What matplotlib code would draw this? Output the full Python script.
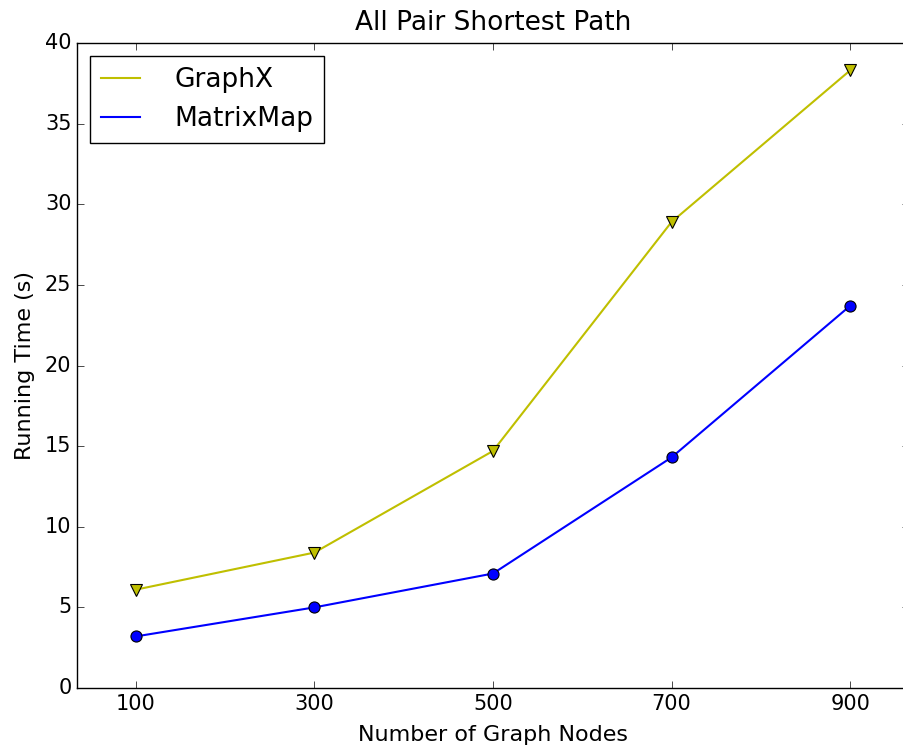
import matplotlib
matplotlib.use("Agg")
import matplotlib.pyplot as plt

plt.style.use("classic")

nodes = [100, 300, 500, 700, 900]
graphx = [6.1, 8.4, 14.7, 28.9, 38.3]
matrixmap = [3.2, 5.0, 7.1, 14.3, 23.7]

W, H = 904, 746
fig = plt.figure(figsize=(W / 100, H / 100), dpi=100, facecolor="white")
# axes placed in pixel terms; right spine sits just outside the canvas
ax = fig.add_axes([77 / W, 58 / H, 832 / W, 645 / H])

ax.plot(nodes, graphx, color="y", linewidth=1.5, label="GraphX")
ax.plot(nodes, matrixmap, color="b", linewidth=1.5, label="MatrixMap")
ax.plot(nodes, graphx, "v", color="y", markersize=8, markeredgecolor="k",
        markeredgewidth=0.8)
ax.plot(nodes, matrixmap, "o", color="b", markersize=8, markeredgecolor="k",
        markeredgewidth=0.8)

ax.set_xlim(34, 966)
ax.set_ylim(0, 40)
ax.set_xticks(nodes)
ax.set_yticks(range(0, 41, 5))
ax.tick_params(labelsize=15, length=5)

ax.set_title("All Pair Shortest Path", fontsize=19, pad=9)
ax.set_xlabel("Number of Graph Nodes", fontsize=16, labelpad=8)
ax.set_ylabel("Running Time (s)", fontsize=16, labelpad=7)

ax.legend(loc="upper left", fontsize=19, numpoints=1, handlelength=1.5,
          handletextpad=1.3, borderaxespad=0.5)

fig.savefig("out.png", dpi=100, facecolor="white")
